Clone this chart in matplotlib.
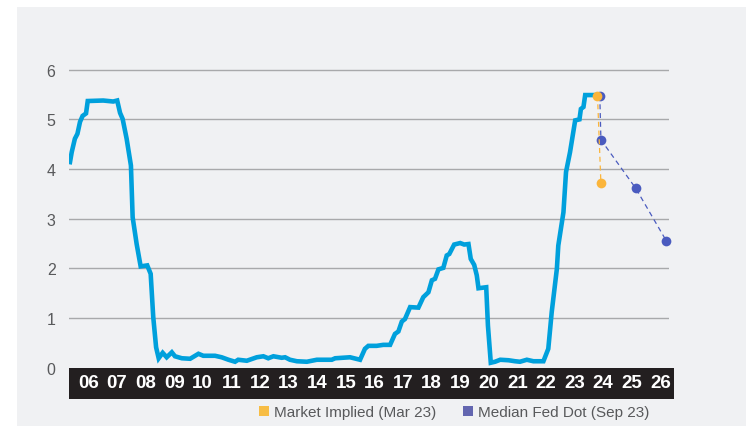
import matplotlib
matplotlib.use("Agg")
import matplotlib.pyplot as plt
from matplotlib.patches import Rectangle
from matplotlib.lines import Line2D

# effective fed funds rate (x in decimal years)
fed_dates = [2005.86, 2005.92, 2006.03, 2006.12, 2006.21, 2006.30, 2006.42, 2006.48,
             2007.02, 2007.20, 2007.37, 2007.51, 2007.61, 2007.70, 2007.84, 2007.99,
             2008.05, 2008.19, 2008.33, 2008.56, 2008.68, 2008.77, 2008.87, 2008.96,
             2009.10, 2009.24, 2009.42, 2009.53, 2009.77, 2010.06, 2010.35, 2010.52,
             2010.93, 2011.16, 2011.40, 2011.63, 2011.74, 2012.04, 2012.39, 2012.62,
             2012.79, 2012.97, 2013.26, 2013.38, 2013.55, 2013.79, 2014.14, 2014.49,
             2015.01, 2015.13, 2015.65, 2016.00, 2016.17, 2016.29, 2016.58, 2016.81,
             2017.05, 2017.22, 2017.34, 2017.46, 2017.57, 2017.75, 2018.04, 2018.21,
             2018.39, 2018.51, 2018.62, 2018.74, 2018.91, 2019.03, 2019.12, 2019.29,
             2019.50, 2019.64, 2019.79, 2019.87, 2019.99, 2020.08, 2020.14, 2020.41,
             2020.47, 2020.57, 2020.72, 2020.90, 2021.19, 2021.42, 2021.59, 2021.83,
             2022.06, 2022.41, 2022.58, 2022.70, 2022.88, 2022.93, 2023.11, 2023.20,
             2023.34, 2023.52, 2023.67, 2023.72, 2023.81, 2023.87, 2024.28]
fed_rate = [4.14, 4.34, 4.61, 4.71, 4.95, 5.07, 5.12, 5.37,
            5.38, 5.37, 5.36, 5.38, 5.13, 5.01, 4.61, 4.07,
            3.03, 2.49, 2.04, 2.06, 1.89, 1.02, 0.41, 0.19,
            0.30, 0.21, 0.31, 0.23, 0.19, 0.18, 0.28, 0.24,
            0.24, 0.21, 0.16, 0.12, 0.16, 0.14, 0.21, 0.23,
            0.19, 0.23, 0.20, 0.21, 0.16, 0.13, 0.12, 0.16,
            0.16, 0.19, 0.21, 0.16, 0.38, 0.44, 0.44, 0.46,
            0.46, 0.68, 0.73, 0.93, 0.98, 1.22, 1.21, 1.42,
            1.52, 1.76, 1.79, 1.98, 2.01, 2.26, 2.29, 2.48,
            2.51, 2.48, 2.49, 2.19, 2.07, 1.86, 1.60, 1.62,
            0.85, 0.10, 0.12, 0.16, 0.15, 0.13, 0.12, 0.16,
            0.13, 0.13, 0.38, 1.12, 1.99, 2.46, 3.13, 3.94,
            4.34, 4.98, 5.00, 5.21, 5.25, 5.49, 5.49]

market_dates = [2024.30, 2024.42]
market_rate = [5.48, 3.71]

dot_dates = [2024.38, 2024.42, 2025.64, 2026.71]
dot_rate = [5.48, 4.59, 3.61, 2.55]

years = list(range(2006, 2027))
year_labels = ["%02d" % (y % 100) for y in years]
y_ticks = [0, 1, 2, 3, 4, 5, 6]

line_col = "#00a0dc"
market_col = "#fbb53b"
dot_col = "#4a5bbf"
text_col = "#58595b"

W, H = 746, 427
fig = plt.figure(figsize=(W / 100, H / 100), dpi=100)
fig.patch.set_facecolor("white")
fig.patches.append(Rectangle((17 / W, 0), 1, (H - 8) / H, transform=fig.transFigure,
                             facecolor="#f0f1f3", edgecolor="none", zorder=-10))

ax = fig.add_axes([69 / W, (H - 368.7) / H, 600 / W, 307.9 / H])
ax.patch.set_visible(False)
ax.set_xlim(2005.825, 2026.80)
ax.set_ylim(0, 6.2)

ax.plot(fed_dates, fed_rate, color=line_col, lw=3.3, solid_joinstyle="miter", zorder=3)
ax.plot(dot_dates, dot_rate, ls=(0, (4, 3)), lw=0.9, color=dot_col, marker="o",
        markersize=7, markeredgewidth=0, zorder=4, clip_on=False)
ax.plot(market_dates, market_rate, ls=(0, (4, 3)), lw=0.9, color=market_col, marker="o",
        markersize=7, markeredgewidth=0, zorder=5, clip_on=False)

for s in ax.spines.values():
    s.set_visible(False)

ax.set_yticks(y_ticks)
ax.set_yticklabels([str(v) for v in y_ticks], fontsize=11.5, color=text_col,
                   family="Liberation Sans")
ax.yaxis.grid(True, color="#a8a9ab", lw=1.0)
ax.yaxis.get_gridlines()[0].set_visible(False)
ax.tick_params(axis="y", length=0, pad=9.7)

ax.set_xticks([y + 0.5 for y in years])
ax.set_xticklabels(year_labels, fontsize=13.5, fontweight="bold", color="white",
                   family="Liberation Sans")
ax.tick_params(axis="x", length=0, pad=4.3)

# black band behind the year labels
ax.add_patch(Rectangle((0, -31.3 / 307.9), 605 / 600, 31.3 / 307.9, transform=ax.transAxes,
                       facecolor="#231f20", edgecolor="none", clip_on=False, zorder=1))

handles = [Line2D([], [], ls="none", marker="s", markersize=6.8, color="#f7bd45",
                  markeredgewidth=0),
           Line2D([], [], ls="none", marker="s", markersize=6.8, color="#6366b0",
                  markeredgewidth=0)]
fig.legend(handles, ["Market Implied (Mar 23)", "Median Fed Dot (Sep 23)"],
           loc="center", bbox_to_anchor=(454 / W, 14 / H), ncol=2, frameon=False,
           handlelength=0.7, handletextpad=0.3, columnspacing=1.7,
           prop={"family": "Liberation Sans", "size": 11},
           labelcolor=text_col)

fig.savefig("out.png", dpi=100)
